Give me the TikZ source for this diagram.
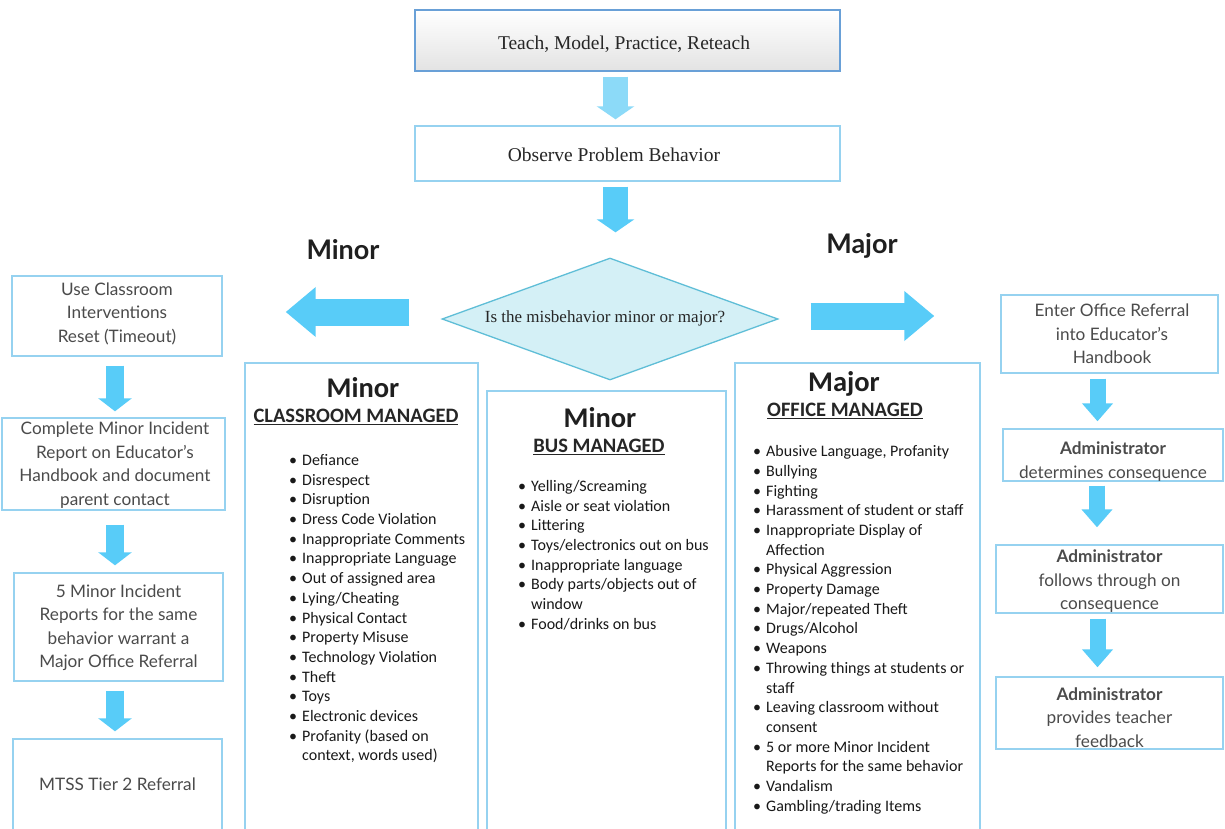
\documentclass[tikz,border=0pt]{standalone}
\usepackage{fontspec}
\setmainfont{Lato}
\newfontfamily\calfont{Carlito}
\newfontfamily\serfont{Liberation Serif}
\usetikzlibrary{arrows.meta,shapes.geometric,calc}
\definecolor{bx}{RGB}{150,210,240}
\definecolor{arr}{RGB}{88,204,248}
\definecolor{arrl}{RGB}{140,218,248}
\definecolor{topb}{RGB}{105,160,215}
\definecolor{dfill}{RGB}{212,240,246}
\definecolor{dline}{RGB}{95,190,215}
\definecolor{txt}{RGB}{75,75,75}
\definecolor{ltxt}{RGB}{25,25,25}
\newcommand{\bitem}[1]{\makebox[13pt][l]{\textbullet}#1}
\newcommand{\bcont}[1]{\hspace*{13pt}#1}
\tikzset{
  box/.style={draw=bx, line width=1.4pt, fill=white, inner sep=0pt},
  topbox/.style={draw=topb, line width=1.3pt, top color=white, bottom color=black!11, inner sep=0pt},
  sertext/.style={text=black!85, inner sep=0pt, font=\serfont\fontsize{19.5}{22}\selectfont},
  boxtext/.style={align=center, text=txt, inner sep=0pt, font=\fontsize{17.2}{23.5}\selectfont},
  listtext/.style={align=left, text=ltxt, inner sep=0pt, anchor=north west, font=\calfont\fontsize{16}{19.7}\selectfont},
  hdr/.style={text=black!88, inner sep=0pt, font=\calfont\bfseries\fontsize{28.5}{30}\selectfont},
  subhdr/.style={text=black!85, inner sep=0pt, font=\calfont\bfseries\fontsize{20.5}{24}\selectfont},
  lbl/.style={text=black!88, inner sep=0pt, font=\bfseries\fontsize{27}{30}\selectfont},
  downlight/.style={draw=arrl, line width=25pt, -{Triangle[width=37pt,length=13pt]}},
  downbig/.style={draw=arr, line width=25pt, -{Triangle[width=37pt,length=13pt]}},
  downsmall/.style={draw=arr, line width=18pt, -{Triangle[width=33pt,length=13pt]}},
  downright/.style={draw=arr, line width=16pt, -{Triangle[width=30pt,length=18pt]}},
  sidearrow/.style={draw=arr, line width=27pt, -{Triangle[width=48pt,length=30pt]}}
}
\begin{document}
\begin{tikzpicture}[x=1pt,y=-1pt]
\useasboundingbox (0,0) rectangle (1225,829);
\fill[white] (0,0) rectangle (1225,829);

% top column
\node[topbox, minimum width=425pt, minimum height=61pt] (tm) at (627.5,40.5) {};
\node[sertext] (tmt) at (624,44) {Teach, Model, Practice, Reteach};
\node[box, minimum width=425pt, minimum height=55pt] (ob) at (627.5,153.5) {};
\node[sertext] (obt) at (614,155) {Observe Problem Behavior};
\node[diamond, draw=dline, fill=dfill, line width=1.3pt, minimum width=336pt, minimum height=122pt, inner sep=0pt] (d) at (610,319) {};
\node[sertext, font=\serfont\fontsize{17}{20}\selectfont] (dt) at (605,318) {Is the misbehavior minor or major?};

\draw[downlight, shorten <=5pt, shorten >=6pt] ([xshift=-12pt]tm.south) -- ([xshift=-12pt]tm.south |- ob.north);
\draw[downbig, shorten <=5pt, shorten >=25pt] ([xshift=-12pt]ob.south) -- ([xshift=-12pt]ob.south |- d.north);

% labels
\node[lbl] (lmin) at (343,250) {Minor};
\node[lbl] (lmaj) at (862,246) {Major};

% left column
\node[box, minimum width=210pt, minimum height=80pt] (uc) at (117,316) {};
\node[boxtext] (uct) at (117,313.5) {Use Classroom\\Interventions\\Reset (Timeout)};
\node[box, minimum width=223pt, minimum height=92pt] (cm) at (113.5,464) {};
\node[boxtext] (cmt) at (115,465) {Complete Minor Incident\\Report on Educator's\\Handbook and document\\parent contact};
\node[box, minimum width=209pt, minimum height=108pt] (fm) at (118.5,627) {};
\node[boxtext] (fmt) at (118.5,627.5) {5 Minor Incident\\Reports for the same\\behavior warrant a\\Major Office Referral};
\node[box, minimum width=209pt, minimum height=101pt] (mt) at (117.5,789.5) {};
\node[boxtext] (mtt) at (117.5,784) {MTSS Tier 2 Referral};

\draw[downsmall, shorten <=9pt, shorten >=6pt] ([xshift=-2pt]uc.south) -- ([xshift=-2pt]uc.south |- cm.north);
\draw[downsmall, shorten <=14pt, shorten >=7pt] ([xshift=1.5pt]cm.south) -- ([xshift=1.5pt]cm.south |- fm.north);
\draw[downsmall, shorten <=9pt, shorten >=7pt] ([xshift=-3.5pt]fm.south) -- ([xshift=-3.5pt]fm.south |- mt.north);

% side arrows
\draw[sidearrow, shorten <=32pt, shorten >=63pt] ([yshift=7pt]d.west) -- ([yshift=7pt]d.west -| uc.east);

% classroom managed
\node[box, minimum width=233pt, minimum height=477pt] (cls) at (361.5,601.5) {};
\node[hdr] (clsh) at (363,388) {Minor};
\node[subhdr] (clss) at (356,417) {\underline{CLASSROOM MANAGED}};
\node[listtext] (clsl) at (289,451.5) {\strut\bitem{Defiance}\\
\bitem{Disrespect}\\
\bitem{Disruption}\\
\bitem{Dress Code Violation}\\
\bitem{Inappropriate Comments}\\
\bitem{Inappropriate Language}\\
\bitem{Out of assigned area}\\
\bitem{Lying/Cheating}\\
\bitem{Physical Contact}\\
\bitem{Property Misuse}\\
\bitem{Technology Violation}\\
\bitem{Theft}\\
\bitem{Toys}\\
\bitem{Electronic devices}\\
\bitem{Profanity (based on}\\
\bcont{context, words used)}};

% bus managed
\node[box, minimum width=239pt, minimum height=449pt] (bus) at (606.5,615.5) {};
\node[hdr] (bush) at (600,418) {Minor};
\node[subhdr] (buss) at (599,447) {\underline{BUS MANAGED}};
\node[listtext] (busl) at (518,477.5) {\strut\bitem{Yelling/Screaming}\\
\bitem{Aisle or seat violation}\\
\bitem{Littering}\\
\bitem{Toys/electronics out on bus}\\
\bitem{Inappropriate language}\\
\bitem{Body parts/objects out of}\\
\bcont{window}\\
\bitem{Food/drinks on bus}};

% office managed
\node[box, minimum width=245pt, minimum height=477pt] (off) at (857.5,601.5) {};
\node[hdr] (offh) at (844,384) {Major};
\node[subhdr] (offs) at (845,411) {\underline{OFFICE MANAGED}};
\node[listtext] (offl) at (753,442.7) {\strut\bitem{Abusive Language, Profanity}\\
\bitem{Bullying}\\
\bitem{Fighting}\\
\bitem{Harassment of student or staff}\\
\bitem{Inappropriate Display of}\\
\bcont{Affection}\\
\bitem{Physical Aggression}\\
\bitem{Property Damage}\\
\bitem{Major/repeated Theft}\\
\bitem{Drugs/Alcohol}\\
\bitem{Weapons}\\
\bitem{Throwing things at students or}\\
\bcont{staff}\\
\bitem{Leaving classroom without}\\
\bcont{consent}\\
\bitem{5 or more Minor Incident}\\
\bcont{Reports for the same behavior}\\
\bitem{Vandalism}\\
\bitem{Gambling/trading Items}};

% right column
\node[box, minimum width=217pt, minimum height=78pt] (eo) at (1109.5,334) {};
\node[boxtext] (eot) at (1112,334) {Enter Office Referral\\into Educator's\\Handbook};
\node[box, minimum width=220pt, minimum height=52pt] (ad) at (1113,455) {};
\node[boxtext] (adt) at (1113,461.5) {\textbf{Administrator}\\determines consequence};
\node[box, minimum width=227pt, minimum height=68pt] (af) at (1109.5,579) {};
\node[boxtext] (aft) at (1109.5,581.5) {\textbf{Administrator}\\follows through on\\consequence};
\node[box, minimum width=227pt, minimum height=72pt] (ap) at (1109.5,713) {};
\node[boxtext] (apt) at (1109.5,717.5) {\textbf{Administrator}\\provides teacher\\feedback};

\draw[sidearrow, shorten <=32pt, shorten >=66pt] ([yshift=3pt]d.east) -- ([yshift=3pt]d.east -| eo.west);

\draw[downright, shorten <=5pt, shorten >=7pt] ([xshift=-12pt]eo.south) -- ([xshift=-12pt]eo.south |- ad.north);
\draw[downright, shorten <=4pt, shorten >=17pt] ([xshift=-16pt]ad.south) -- ([xshift=-16pt]ad.south |- af.north);
\draw[downright, shorten <=5pt, shorten >=9pt] ([xshift=-12pt]af.south) -- ([xshift=-12pt]af.south |- ap.north);
\end{tikzpicture}
\end{document}
